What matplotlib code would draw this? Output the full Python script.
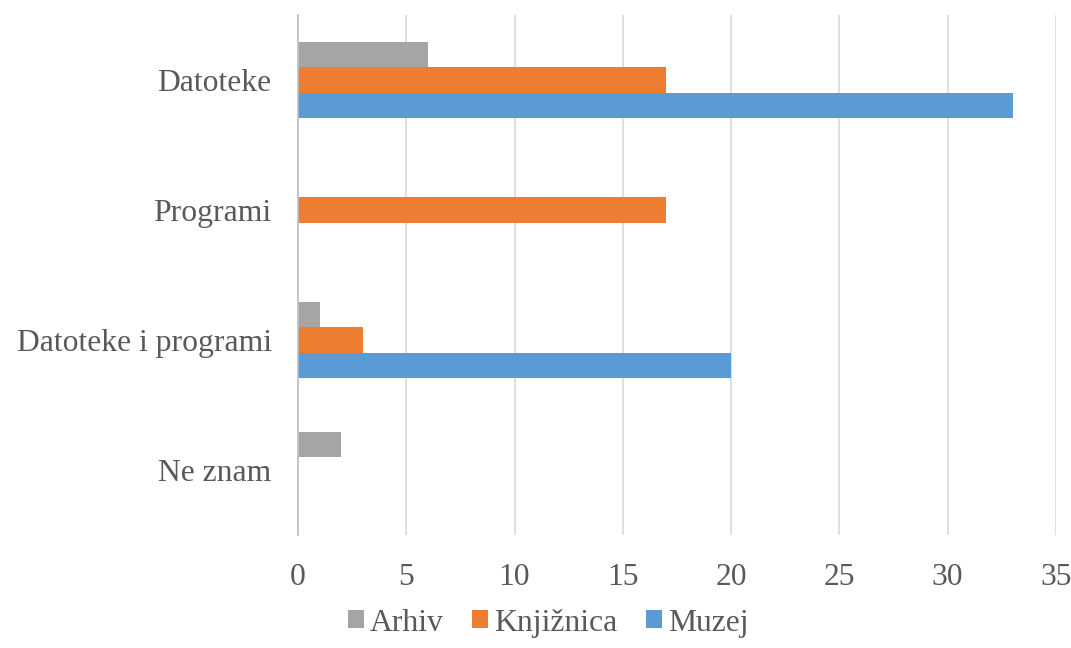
import matplotlib
matplotlib.use("Agg")
from matplotlib import pyplot as plt
import numpy as np

categories = ["Datoteke", "Programi", "Datoteke i programi", "Ne znam"]
arhiv = [6, 0, 1, 2]
knjiznica = [17, 17, 3, 0]
muzej = [33, 0, 20, 0]

series = [("Arhiv", arhiv, "#A5A5A5"),
          ("Knjižnica", knjiznica, "#ED7D31"),
          ("Muzej", muzej, "#5B9BD5")]

plt.rcParams['font.family'] = ['Liberation Serif', 'DejaVu Serif']
text_color = "#595959"
fs = 22.8

fig = plt.figure(figsize=(10.71, 6.48), dpi=100)
ax = fig.add_axes([0.2782, 0.1744, 0.7078, 0.8025])

y = np.arange(len(categories))
bar_h = 0.197
for i, (name, vals, col) in enumerate(series):
    ax.barh(y + (i - 1) * bar_h, vals, height=bar_h, color=col, label=name, zorder=3)

ax.set_ylim(len(categories) - 0.5, -0.5)
ax.set_xlim(0, 35)
ax.set_xticks(np.arange(0, 36, 5))
ax.set_yticks(y)
ax.set_yticklabels(categories)

ax.grid(axis='x', color="#D9D9D9", linewidth=1.2, zorder=0)
for s in ["top", "right", "bottom"]:
    ax.spines[s].set_visible(False)
ax.spines["left"].set_color("#BFBFBF")
ax.spines["left"].set_linewidth(1.2)
ax.spines["left"].set_zorder(4)

ax.tick_params(axis='x', length=0, pad=20, labelsize=fs, labelcolor=text_color)
ax.tick_params(axis='y', length=0, pad=19, labelsize=fs, labelcolor=text_color)

fig.legend(loc='lower center', bbox_to_anchor=(0.512, -0.028), ncol=3, frameon=False,
           fontsize=fs, labelcolor=text_color, handlelength=0.5, handleheight=0.5,
           handletextpad=0.2, columnspacing=0.9)

fig.savefig("out.png", dpi=100)
